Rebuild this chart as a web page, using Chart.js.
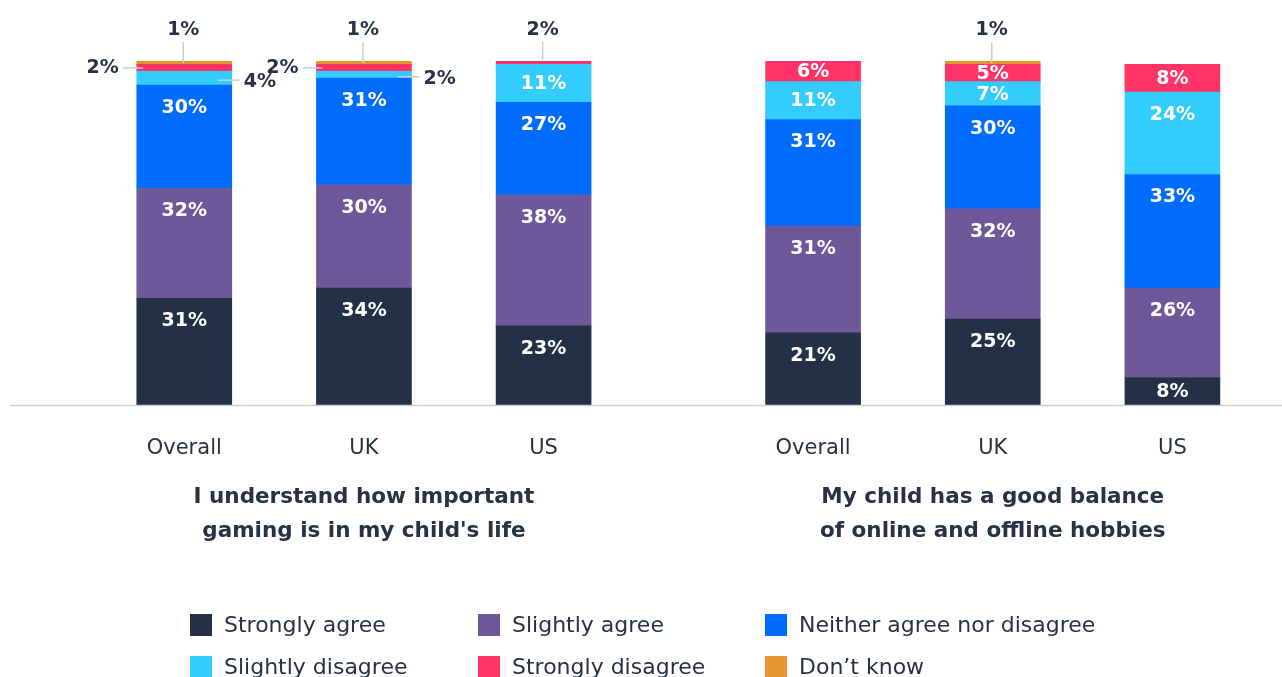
<!DOCTYPE html>
<html>
<head>
<meta charset="utf-8">
<script src="https://cdn.jsdelivr.net/npm/chart.js@4"></script>
<style>
  html, body { margin: 0; padding: 0; background: #ffffff; }
  #wrap { width: 1282px; height: 677px; position: relative; }
</style>
</head>
<body>
<div id="wrap"><canvas id="c"></canvas></div>
<script>
// Bars, left to right: three countries under each statement
const categories = ['Overall', 'UK', 'US', 'Overall', 'UK', 'US'];
const groupTitles = [
  ['I understand how important', "gaming is in my child's life"],
  ['My child has a good balance', 'of online and offline hobbies']
];
const seriesNames = ['Strongly agree', 'Slightly agree', 'Neither agree nor disagree',
                     'Slightly disagree', 'Strongly disagree', 'Don\u2019t know'];
const stronglyAgree    = [31, 34, 23, 21, 25, 8];
const slightlyAgree    = [32, 30, 38, 31, 32, 26];
const neitherAgree     = [30, 31, 27, 31, 30, 33];
const slightlyDisagree = [4, 2, 11, 11, 7, 24];
const stronglyDisagree = [2, 2, 2, 6, 5, 8];
const dontKnow         = [1, 1, 0, 0, 1, 0];

const seriesValues = [stronglyAgree, slightlyAgree, neitherAgree,
                      slightlyDisagree, stronglyDisagree, dontKnow];
const seriesColors = ['#243045', '#6f5899', '#006dff', '#33ccff', '#ff3366', '#e3952b'];

const INK = '#263247';
const FONT = '"DejaVu Sans", sans-serif';
const perGroup = 3;
const groupGap = 0.5;

// x position of a bar: its index within the group, plus a wider gap between groups
function xOf(i) {
  const g = Math.floor(i / perGroup);
  return g * (perGroup + groupGap) + (i % perGroup);
}

const datasets = seriesNames.map((name, s) => ({
  label: name,
  data: seriesValues[s].map((v, i) => ({ x: xOf(i), y: v })),
  backgroundColor: seriesColors[s],
  borderWidth: 0,
  barThickness: 95
}));

// Where a segment's value label goes: inside, or outside with a leader line
function placement(s, i) {
  const v = seriesValues[s][i];
  if (v === 0) return 'none';
  let topmost = true;
  for (let k = s + 1; k < seriesValues.length; k++) if (seriesValues[k][i] > 0) topmost = false;
  if (s === 5) return 'top';
  if (v < 5) {
    if (topmost) return 'top';
    return s === 4 ? 'left' : 'right';
  }
  return 'inside';
}

const decorations = {
  id: 'decorations',
  afterDatasetsDraw(chart) {
    const ctx = chart.ctx;
    const area = chart.chartArea;
    const xs = chart.scales.x;

    // baseline
    ctx.save();
    ctx.strokeStyle = '#c9cdd3';
    ctx.lineWidth = 1.5;
    ctx.beginPath();
    ctx.moveTo(area.left, area.bottom + 0.5);
    ctx.lineTo(area.right, area.bottom + 0.5);
    ctx.stroke();

    // value labels
    chart.data.datasets.forEach((ds, s) => {
      const meta = chart.getDatasetMeta(s);
      meta.data.forEach((bar, i) => {
        const p = placement(s, i);
        if (p === 'none') return;
        const txt = seriesValues[s][i] + '%';
        const top = Math.min(bar.y, bar.base);
        const bot = Math.max(bar.y, bar.base);
        const half = bar.width / 2;
        ctx.font = '600 19px ' + FONT;
        ctx.textBaseline = 'middle';
        if (p === 'inside') {
          ctx.fillStyle = '#ffffff';
          ctx.textAlign = 'center';
          const y = Math.min(top + 22, (top + bot) / 2);
          ctx.fillText(txt, bar.x, y + 1);
          return;
        }
        ctx.fillStyle = INK;
        ctx.strokeStyle = '#c9cdd3';
        ctx.lineWidth = 1.5;
        const cy = (top + bot) / 2;
        if (p === 'top') {
          ctx.beginPath();
          ctx.moveTo(bar.x - 1, top + 2);
          ctx.lineTo(bar.x - 1, area.top - 19);
          ctx.stroke();
          ctx.textAlign = 'center';
          ctx.fillText(txt, bar.x - 1, area.top - 31);
        } else if (p === 'left') {
          ctx.beginPath();
          ctx.moveTo(bar.x - half + 6, cy);
          ctx.lineTo(bar.x - half - 14, cy);
          ctx.stroke();
          ctx.textAlign = 'right';
          ctx.fillText(txt, bar.x - half - 18, cy);
        } else {
          ctx.beginPath();
          ctx.moveTo(bar.x + half - 14, cy + 2);
          ctx.lineTo(bar.x + half + 8, cy + 2);
          ctx.stroke();
          ctx.textAlign = 'left';
          ctx.fillText(txt, bar.x + half + 12, cy + 4);
        }
      });
    });

    // category labels under the axis
    ctx.fillStyle = INK;
    ctx.textAlign = 'center';
    ctx.textBaseline = 'middle';
    ctx.font = '21px ' + FONT;
    categories.forEach((c, i) => {
      ctx.fillText(c, xs.getPixelForValue(xOf(i)), area.bottom + 44);
    });

    // statement titles, centred under the middle bar of each group
    ctx.font = 'bold 21.5px ' + FONT;
    groupTitles.forEach((lines, g) => {
      const cx = xs.getPixelForValue(xOf(g * perGroup + 1));
      lines.forEach((ln, k) => ctx.fillText(ln, cx, area.bottom + 92 + k * 34));
    });

    // legend: three columns, two rows
    const colX = [190, 478, 765];
    const rowY = [area.bottom + 220, area.bottom + 262];
    ctx.textAlign = 'left';
    ctx.font = '22px ' + FONT;
    seriesNames.forEach((name, s) => {
      const x = colX[s % 3];
      const y = rowY[Math.floor(s / 3)];
      ctx.fillStyle = seriesColors[s];
      ctx.fillRect(x, y - 11, 22, 22);
      ctx.fillStyle = INK;
      ctx.fillText(name, x + 34, y + 1);
    });
    ctx.restore();
  }
};

new Chart(document.getElementById('c'), {
  type: 'bar',
  data: { datasets },
  options: {
    responsive: true,
    maintainAspectRatio: false,
    animation: false,
    layout: { padding: { top: 61, left: 10, right: 0, bottom: 272 } },
    plugins: { legend: { display: false }, tooltip: { enabled: false } },
    scales: {
      x: { type: 'linear', stacked: true, display: false, offset: false, min: -0.97, max: 6.11 },
      y: { stacked: true, display: false, min: 0, max: 100 }
    }
  },
  plugins: [decorations]
});
</script>
</body>
</html>
